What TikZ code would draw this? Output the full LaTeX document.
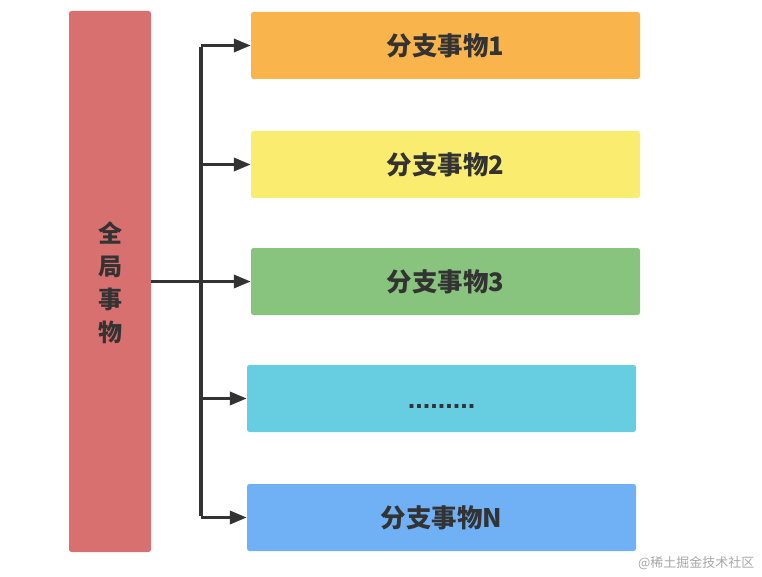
\documentclass[tikz,border=0pt]{standalone}
\usepackage{fontspec}
\newfontfamily\cjk{Noto Sans CJK SC}
\newfontfamily\lsans{Liberation Sans}
\usetikzlibrary{arrows.meta}
\definecolor{cred}{HTML}{D97070}
\definecolor{corange}{HTML}{F9B54C}
\definecolor{cyellow}{HTML}{F9EC6E}
\definecolor{cgreen}{HTML}{89C47E}
\definecolor{ccyan}{HTML}{67CDE0}
\definecolor{cblue}{HTML}{70B1F5}
\definecolor{cline}{HTML}{333333}
\begin{document}
\begin{tikzpicture}[x=1pt,y=-1pt,
  box/.style={rounded corners=2.5pt, draw=none, minimum width=389pt, minimum height=67pt, inner sep=0pt,
    font=\cjk\bfseries\fontsize{25.5}{30}\selectfont, text=cline},
  conn/.style={draw=cline, line width=3.5pt, -{Triangle[length=17pt,width=13pt]}},
  trunk/.style={draw=cline, line width=3.5pt}]
\useasboundingbox (0,0) rectangle (762,577);
\node[rounded corners=2.5pt, fill=cred, minimum width=82pt, minimum height=541pt, inner sep=0pt] (g) at (110,281.5) {};
\node[text=cline, font=\cjk\bfseries\fontsize{24}{33}\selectfont, align=center] (gt) at (110,283) {全\\局\\事\\物};
\node[box, fill=corange] (b1) at (445.5,45.5) {分支事物1};
\node[box, fill=cyellow] (b2) at (445.5,164.5) {分支事物2};
\node[box, fill=cgreen] (b3) at (445.5,281.5) {分支事物3};
\node[box, fill=ccyan] (b4) at (441.5,398.5) {};
\node[text=cline, font=\lsans\bfseries\fontsize{27}{30}\selectfont, anchor=base, inner sep=0pt] (b4t) at (441.5,408.5) {.........};
\node[box, fill=cblue] (b5) at (441.5,517.5) {分支事物N};
\coordinate (top) at (201,45.5);
\coordinate (bot) at (201,517.5);
\draw[trunk] ([yshift=-1.75pt]top) -- ([yshift=1.75pt]bot);
\draw[conn] (g.east |- b3.west) -- (b3.west);
\draw[conn] (top) -- (b1.west);
\draw[conn] (201,164.5) -- (b2.west);
\draw[conn] (201,398.5) -- (b4.west);
\draw[conn] (bot) -- (b5.west);
\node[text=black!35, font=\cjk\fontsize{13}{15}\selectfont, anchor=east] (wm) at (758,563) {@稀土掘金技术社区};
\end{tikzpicture}
\end{document}
